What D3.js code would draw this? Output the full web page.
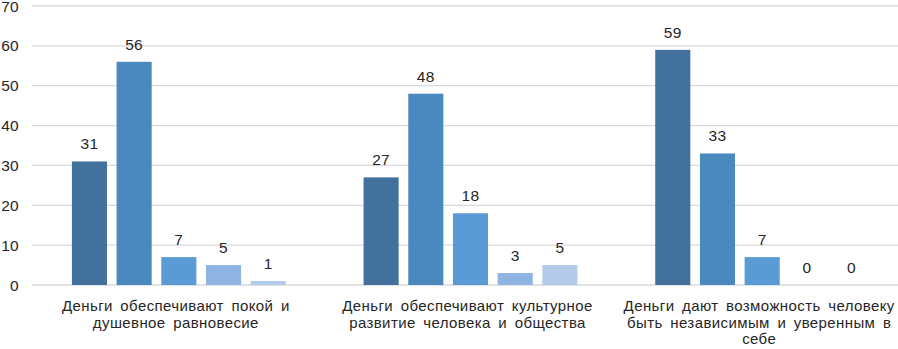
<!DOCTYPE html>
<html>
<head>
<meta charset="utf-8">
<script src="https://cdn.jsdelivr.net/npm/d3@7"></script>
<style>
  body { margin: 0; background: #fff; }
  text { font-family: "Liberation Sans", Arial, sans-serif; }
</style>
</head>
<body>
<div id="chart"></div>
<script>
// Data
const categories = [
    "Деньги обеспечивают покой и\nдушевное равновесие",
    "Деньги обеспечивают культурное\nразвитие человека и общества",
    "Деньги дают возможность человеку\nбыть независимым и уверенным в\nсебе"
];
const seriesNames = ["s1", "s2", "s3", "s4", "s5"];
const s1 = [31, 27, 59];
const s2 = [56, 48, 33];
const s3 = [7, 18, 7];
const s4 = [5, 3, 0];
const s5 = [1, 5, 0];
const seriesValues = [s1, s2, s3, s4, s5];
const yTicks = [0, 10, 20, 30, 40, 50, 60, 70];
const colors = ["#41719c", "#4a89be", "#5b9bd5", "#8fb4e3", "#b4cbe9"];

const W = 898, H = 349;

const svg = d3.select("#chart")
    .append("svg")
    .attr("width", W)
    .attr("height", H);

// Scales
const x0 = d3.scaleBand().domain(d3.range(categories.length)).range([33, 908]);
const x1 = d3.scaleBand().domain(seriesNames)
    .range([0, x0.bandwidth()])
    .paddingInner(0.215)
    .paddingOuter(0.87);
const y = d3.scaleLinear().domain([0, 70]).range([285, 6]);

// Gridlines
svg.append("g")
    .selectAll("line")
    .data(yTicks)
    .join("line")
    .attr("x1", 32)
    .attr("x2", W)
    .attr("y1", d => y(d))
    .attr("y2", d => y(d))
    .attr("stroke", "#d9d9d9")
    .attr("stroke-width", 1.3);

// Y tick labels
svg.append("g")
    .selectAll("text")
    .data(yTicks)
    .join("text")
    .attr("x", 19)
    .attr("y", d => y(d))
    .attr("dy", "0.36em")
    .attr("text-anchor", "end")
    .attr("font-size", 15.5)
    .attr("letter-spacing", 0.3)
    .attr("fill", "#262626")
    .text(d => d);

// Bars
const groups = svg.append("g")
    .selectAll("g")
    .data(categories.map((c, i) => i))
    .join("g")
    .attr("transform", i => `translate(${x0(i)},0)`);

const cells = groups.selectAll("g")
    .data(i => seriesNames.map((s, k) => ({ s, k, v: seriesValues[k][i] })))
    .join("g");

cells.append("rect")
    .attr("x", d => x1(d.s))
    .attr("width", x1.bandwidth())
    .attr("y", d => y(d.v))
    .attr("height", d => y(0) - y(d.v))
    .attr("fill", d => colors[d.k]);

cells.append("text")
    .attr("x", d => x1(d.s) + x1.bandwidth() / 2)
    .attr("y", d => y(d.v) - 12)
    .attr("text-anchor", "middle")
    .attr("font-size", 15.5)
    .attr("letter-spacing", 0.3)
    .attr("fill", "#262626")
    .text(d => d.v);

// Category labels
const catLabels = svg.append("g")
    .selectAll("text")
    .data(categories)
    .join("text")
    .attr("x", (d, i) => x0(i) + x0.bandwidth() / 2 - 3)
    .attr("y", 311)
    .attr("text-anchor", "middle")
    .attr("font-size", 15)
    .attr("letter-spacing", 0.4)
    .attr("word-spacing", 3)
    .attr("fill", "#262626");

catLabels.selectAll("tspan")
    .data(d => d.split("\n"))
    .join("tspan")
    .attr("x", function () { return d3.select(this.parentNode).attr("x"); })
    .attr("dy", (d, i) => i === 0 ? 0 : 16.5)
    .text(d => d);
</script>
</body>
</html>
